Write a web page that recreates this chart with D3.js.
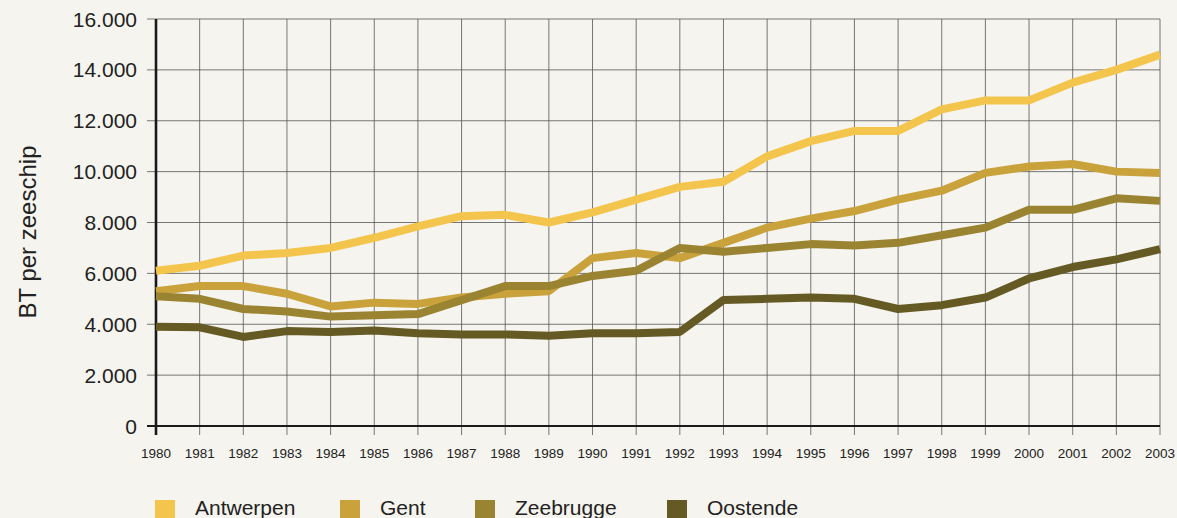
<!DOCTYPE html>
<html>
<head>
<meta charset="utf-8">
<script src="https://cdn.jsdelivr.net/npm/d3@7"></script>
<style>
  html, body { margin: 0; padding: 0; background: #f5f4ee; }
  svg { display: block; font-family: "Liberation Sans", Arial, sans-serif; }
</style>
</head>
<body>
<svg id="chart" width="1177" height="518"></svg>
<script>
// Gemiddelde bruto tonnage per zeeschip, Vlaamse havens 1980-2003
const years = d3.range(1980, 2004);
const antwerpen = [6100, 6300, 6700, 6800, 7000, 7400, 7850, 8250, 8300, 8000, 8400, 8900, 9400, 9600, 10600, 11200, 11600, 11600, 12450, 12800, 12800, 13500, 14000, 14600];
const gent      = [5300, 5500, 5500, 5200, 4700, 4850, 4800, 5050, 5200, 5300, 6600, 6800, 6600, 7200, 7800, 8150, 8450, 8900, 9250, 9950, 10200, 10300, 10000, 9950];
const zeebrugge = [5100, 5000, 4600, 4500, 4300, 4350, 4400, 4950, 5500, 5500, 5900, 6100, 7000, 6850, 7000, 7150, 7100, 7200, 7500, 7800, 8500, 8500, 8950, 8850];
const oostende  = [3900, 3880, 3500, 3730, 3700, 3750, 3650, 3600, 3600, 3550, 3650, 3650, 3700, 4950, 5000, 5050, 5000, 4600, 4750, 5050, 5800, 6250, 6550, 6950];
const seriesNames = ["Antwerpen", "Gent", "Zeebrugge", "Oostende"];
const seriesColors = ["#f4c54c", "#c9a23c", "#9a8432", "#655a24"];
const yTicks = [0, 2000, 4000, 6000, 8000, 10000, 12000, 14000, 16000];
const yTitle = "BT per zeeschip";

const seriesValues = [antwerpen, gent, zeebrugge, oostende];

const svg = d3.select("#chart");
const plotLeft = 156, plotRight = 1160, plotTop = 19, plotBottom = 426;

const x = d3.scaleLinear().domain([1980, 2003]).range([plotLeft, plotRight]);
const y = d3.scaleLinear().domain([0, 16000]).range([plotBottom, plotTop]);

const fmt = v => d3.format(",")(v).replace(/,/g, ".");

// vertical grid lines with ticks below the base line
svg.append("g").selectAll("line").data(years).join("line")
  .attr("x1", d => x(d)).attr("x2", d => x(d))
  .attr("y1", plotTop).attr("y2", plotBottom + 9)
  .attr("stroke", "#555").attr("stroke-width", 0.8);

// horizontal grid lines, extended slightly left of the axis
svg.append("g").selectAll("line").data(yTicks).join("line")
  .attr("x1", plotLeft - 9).attr("x2", plotRight)
  .attr("y1", d => y(d)).attr("y2", d => y(d))
  .attr("stroke", "#555").attr("stroke-width", 0.8);

// axis lines
svg.append("line").attr("x1", plotLeft).attr("x2", plotLeft)
  .attr("y1", plotTop).attr("y2", plotBottom + 9)
  .attr("stroke", "#1a1a1a").attr("stroke-width", 2.6);
svg.append("line").attr("x1", plotLeft - 9).attr("x2", plotRight)
  .attr("y1", plotBottom).attr("y2", plotBottom)
  .attr("stroke", "#1a1a1a").attr("stroke-width", 2.2);

// y tick labels
svg.append("g").selectAll("text").data(yTicks).join("text")
  .attr("x", 137).attr("y", d => y(d))
  .attr("dy", "0.36em").attr("text-anchor", "end")
  .attr("font-size", 21).attr("fill", "#222")
  .text(fmt);

// x tick labels
svg.append("g").selectAll("text").data(years).join("text")
  .attr("x", d => x(d)).attr("y", 458)
  .attr("text-anchor", "middle")
  .attr("font-size", 13.5).attr("fill", "#222")
  .text(d => d);

// y axis title
svg.append("text")
  .attr("transform", "translate(36,232) rotate(-90)")
  .attr("text-anchor", "middle")
  .attr("font-size", 24).attr("fill", "#222")
  .text(yTitle);

// series lines
const line = d3.line().x((d, i) => x(years[i])).y(d => y(d));
svg.append("g").selectAll("path").data(seriesValues).join("path")
  .attr("d", line)
  .attr("fill", "none")
  .attr("stroke", (d, i) => seriesColors[i])
  .attr("stroke-width", 8)
  .attr("stroke-linejoin", "round");

// legend
const legendX = [155, 340, 475, 667];
const lg = svg.append("g").selectAll("g").data(seriesNames).join("g")
  .attr("transform", (d, i) => `translate(${legendX[i]},500)`);
lg.append("rect").attr("width", 20).attr("height", 18)
  .attr("fill", (d, i) => seriesColors[i]);
lg.append("text").attr("x", 40).attr("y", 15)
  .attr("font-size", 21).attr("fill", "#222")
  .text(d => d);
</script>
</body>
</html>
